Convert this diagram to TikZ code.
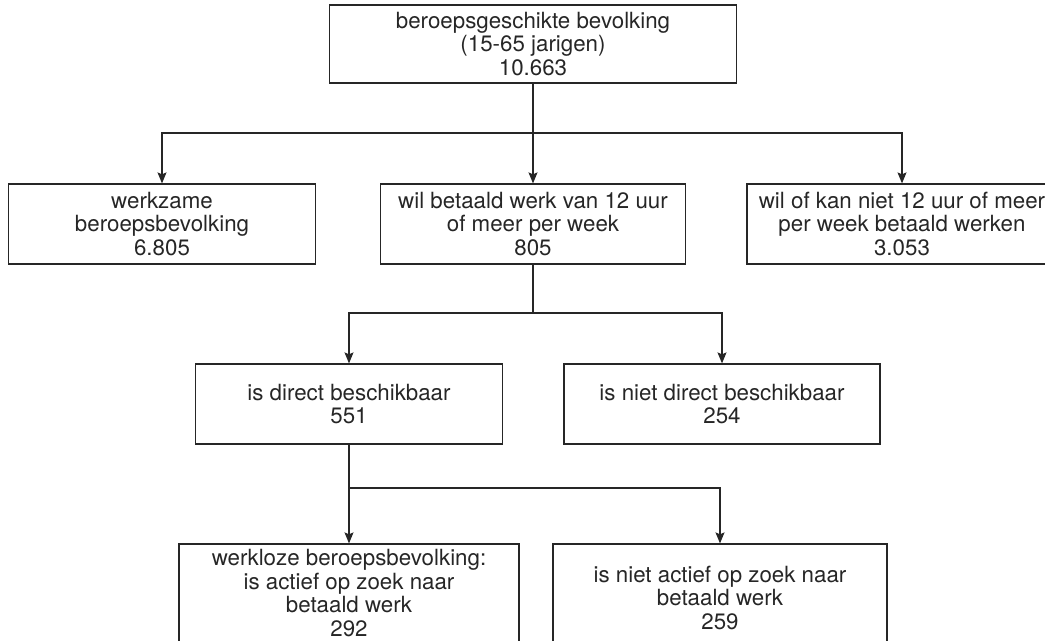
\documentclass[tikz,border=0pt]{standalone}
\usepackage{fontspec}
\setmainfont{TeX Gyre Heros}
\usepackage{tikz}
\usetikzlibrary{arrows.meta,positioning}
\definecolor{inkgray}{HTML}{262626}
\tikzset{%
	box/.style   = {draw=inkgray, line width=0.7pt, rectangle, minimum height=1.6cm, align=center, text=inkgray,
	                font=\fontsize{12.7}{13.5}\selectfont, inner sep=2pt},
	arrow/.style = {line width=0.7pt, draw=inkgray, -{Stealth[length=2.2mm,width=1.8mm,inset=0.4mm]}},
	line/.style  = {line width=0.7pt, draw=inkgray},
}

\begin{document}
\begin{tikzpicture}[x=0.02cm,y=-0.02cm]
		\useasboundingbox (0,0) rectangle (1045,641);
		% bovenste niveau
		\node[box, minimum width=8.14cm, minimum height=1.56cm] (bevolking) at (533,44) {beroepsgeschikte bevolking\\(15-65 jarigen)\\10.663};
		% tweede niveau
		\node[box, minimum width=6.14cm] (werkzaam) at (162,224) {werkzame\\beroepsbevolking\\6.805};
		\node[box, minimum width=6.1cm] (wil) at (533,224) {wil betaald werk van 12 uur\\of meer per week\\805};
		\node[box, minimum width=6.2cm] (wilniet) at (902,224) {wil of kan niet 12 uur of meer\\per week betaald werken\\3.053};
		% derde niveau
		\node[box, minimum width=6.14cm] (direct) at (349,404) {is direct beschikbaar\\551};
		\node[box, minimum width=6.32cm] (nietdirect) at (722,404) {is niet direct beschikbaar\\254};
		% vierde niveau
		\node[box, minimum width=6.8cm, minimum height=1.96cm] (werkloos) at (349,593) {werkloze beroepsbevolking:\\is actief op zoek naar\\betaald werk\\292};
		\node[box, minimum width=6.68cm, minimum height=2.16cm] (nietactief) at (720,598) {is niet actief op zoek naar\\betaald werk\\259};
		% verbindingen
		\coordinate (splitA) at (533,133);
		\coordinate (splitB) at (533,313);
		\coordinate (splitC) at (349,488);
		\draw[line] (bevolking.south) -- (splitA);
		\draw[arrow] (splitA) -| (werkzaam.north);
		\draw[arrow] (splitA) -- (wil.north);
		\draw[arrow] (splitA) -| (wilniet.north);
		\draw[line] (wil.south) -- (splitB);
		\draw[arrow] (splitB) -| (direct.north);
		\draw[arrow] (splitB) -| (nietdirect.north);
		\draw[line] (direct.south) -- (splitC);
		\draw[arrow] (splitC) -- (werkloos.north);
		\draw[arrow] (splitC) -| (nietactief.north);
	\end{tikzpicture}
\end{document}
